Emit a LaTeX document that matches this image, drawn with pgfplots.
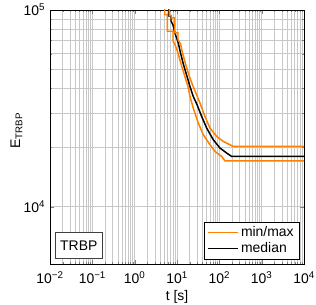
\documentclass[border=0pt]{standalone}
\usepackage{fontspec}
\setmainfont{Liberation Sans}
\usepackage{pgfplots}
\pgfplotsset{compat=1.18}
\definecolor{myorange}{RGB}{255,128,0}
\definecolor{gridgray}{RGB}{200,200,200}
\pgfplotsset{longline/.style={legend image code/.code={\draw[##1] (0bp,0bp) -- (30bp,0bp);}}}
\begin{document}
\fontsize{14}{16}\selectfont
\begin{tikzpicture}
\begin{axis}[
  scale only axis,
  width=254bp, height=254bp,
  xmode=log, ymode=log,
  xmin=1e-2, xmax=1e4,
  ymin=5113, ymax=1e5,
  xtick={1e-2,1e-1,1e0,1e1,1e2,1e3,1e4},
  xticklabels={10\textsuperscript{−2},10\textsuperscript{−1},10\textsuperscript{0},10\textsuperscript{1},10\textsuperscript{2},10\textsuperscript{3},10\textsuperscript{4}},
  ytick={1e4,1e5},
  yticklabels={10\textsuperscript{4},10\textsuperscript{5}},
  tick label style={font=\fontsize{14}{16}\selectfont},
  xticklabel style={yshift=-3bp},
  label style={font=\fontsize{14}{16}\selectfont},
  grid=both,
  grid style={gridgray, line width=0.5pt},
  tick align=inside,
  major tick length=4bp,
  minor tick length=2bp,
  axis line style={black, line width=0.6pt},
  xlabel={t [s]},
  ylabel={E\textsubscript{TRBP}},
  x label style={at={(axis description cs:0.5,-0.128)}, anchor=center},
  y label style={at={(axis description cs:-0.132,0.524)}, anchor=center},
  legend cell align=left,
  legend style={at={(rel axis cs:0.98,0.02)}, anchor=south east,
    inner xsep=3bp, inner ysep=2bp,
    font=\fontsize{14}{16}\selectfont},
]
\addplot[myorange, line width=1.5pt, longline] coordinates {
(5.122,106000) (5.122,94650) (5.901,94650) (5.901,77980) (8.045,77980)
(8.045,69360) (8.971,66660) (10.56,60490) (12.43,53200) (15.04,46510)
(18.19,40800) (20.28,36290) (24.27,31700) (31.86,26600) (41.81,23200)
(60.19,20640) (79.00,19090) (113.7,18000) (136.1,17100) (10000,17100)
};
\addlegendentry{min/max}
\addplot[black, line width=1.5pt, longline] coordinates {
(6.471,106000) (6.471,93230) (7.217,93230) (7.217,87930) (8.045,83880)
(8.971,76000) (10.00,71250) (10.85,67200) (12.10,60490) (14.09,53200)
(16.95,46510) (20.28,40800) (24.27,36290) (29.20,33330) (38.32,28730)
(50.30,25090) (72.03,21880) (103.7,19860) (149.3,18740) (196.0,18000)
(10000,18000)
};
\addlegendentry{median}
\addplot[myorange, line width=1.5pt, forget plot] coordinates {
(6.6,106000) (6.6,93990) (7.334,93990) (7.334,91070) (8.826,91070)
(8.826,76430) (10.56,76430) (10.56,70660) (12.10,67200) (13.49,60490)
(15.88,53200) (19.21,46510) (23.23,41620) (26.62,38800) (34.94,33610)
(45.86,28730) (60.19,25090) (86.66,22750) (124.1,21460) (178.6,20640)
(213.8,20240) (10000,20240)
};
\node[draw=black!75, line width=0.6pt, fill=white, anchor=south west,
  minimum width=47bp, minimum height=26bp, inner sep=0pt,
  font=\fontsize{14}{16}\selectfont]
  at ([xshift=5bp,yshift=5bp]rel axis cs:0,0) {TRBP};
\end{axis}
\pgfresetboundingbox
\path ([xshift=-50bp,yshift=-41bp]current axis.south west) rectangle ([xshift=12bp,yshift=10bp]current axis.north east);
\end{tikzpicture}
\end{document}
